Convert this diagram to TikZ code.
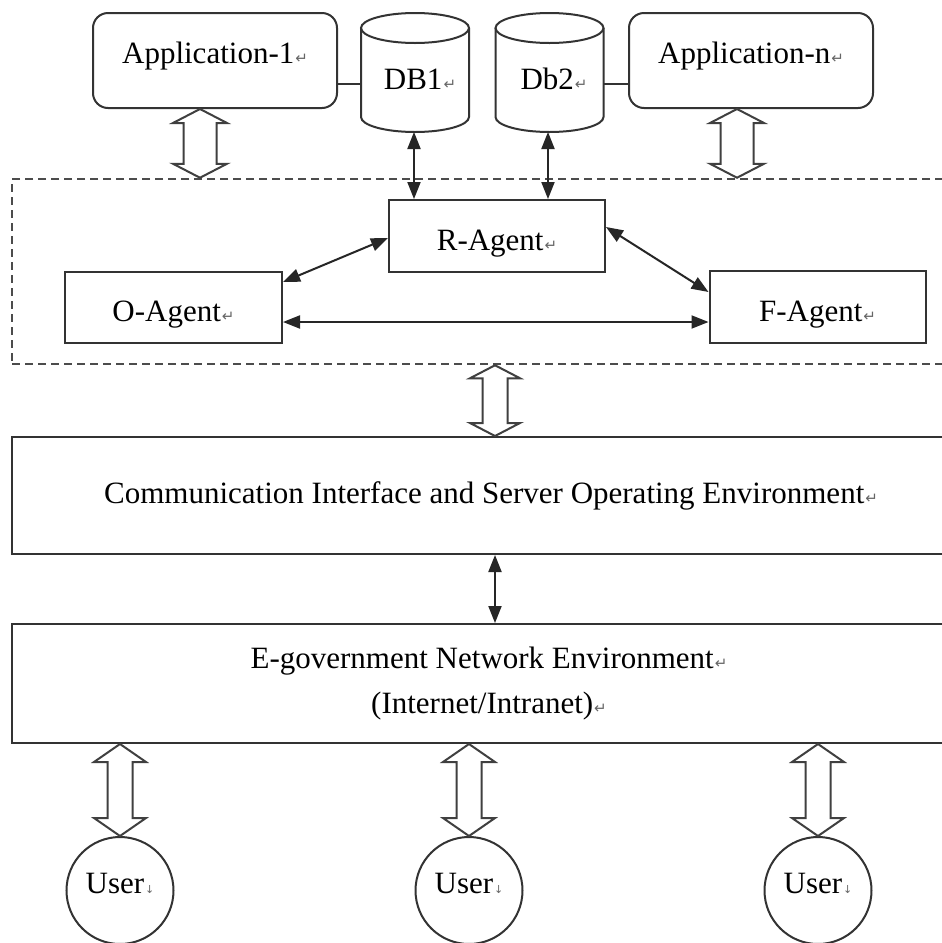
\documentclass[tikz,border=0pt]{standalone}
\usepackage{fontspec}
\setmainfont{Liberation Serif}
\newfontfamily\symfont{DejaVu Sans}
\usetikzlibrary{arrows.meta,calc}

% Word-style paragraph / line-break marks that follow the labels
\newcommand{\pmark}{{\kern0.5pt\symfont\fontsize{7.5}{7.5}\selectfont\color{black!60}↵}}
\newcommand{\lmark}{{\kern0.5pt\symfont\fontsize{5.5}{5.5}\selectfont\color{black!60}↓}}

% hollow two-headed block arrow: top point, bottom point, shaft half width, head half width, head length
\newcommand{\hollowdbl}[5]{%
  \draw[hollow] (#1) -- ($(#1)+(#4,-#5)$) -- ($(#1)+(#3,-#5)$) -- ($(#2)+(#3,#5)$)
    -- ($(#2)+(#4,#5)$) -- (#2) -- ($(#2)+(-#4,#5)$) -- ($(#2)+(-#3,#5)$)
    -- ($(#1)+(-#3,-#5)$) -- ($(#1)+(-#4,-#5)$) -- cycle;}

\begin{document}
\begin{tikzpicture}[x=0.5pt,y=0.5pt,
  every node/.style={font=\fontsize{15.5}{22.5}\selectfont, inner sep=0pt},
  edge/.style={draw=black!80, line width=1pt},
  appbox/.style={edge, rounded corners=7.5pt, minimum width=122pt, minimum height=47.5pt,
                 text height=10pt, text depth=7pt},
  agentbox/.style={edge, minimum width=108pt, minimum height=36pt, text height=17pt, text depth=3pt},
  layerbox/.style={edge, minimum width=479pt},
  dashbox/.style={draw=black!70, line width=1.25pt, dash pattern=on 4pt off 2.5pt},
  userball/.style={edge, circle, minimum size=53.5pt, text height=10pt, text depth=6.7pt},
  link/.style={draw=black!85, line width=1pt,
               {Triangle[length=8.5pt,width=6.5pt]}-{Triangle[length=8.5pt,width=6.5pt]}},
  hollow/.style={draw=black!75, line width=1pt, fill=white, line join=miter},
  plain/.style={draw=black!80, line width=1pt}
]
\useasboundingbox (0,0) rectangle (942,-943);
\fill[white] (0,0) rectangle (942,-943);
\clip (0,0) rectangle (942,-943);

% applications
\node[appbox] (app1) at (215,-60.5) {Application-1\pmark};
\node[appbox] (appn) at (751,-60.5) {Application-n\pmark};

% databases
\draw[plain] (361,-28) -- (361,-117) arc[start angle=180,end angle=360,x radius=27pt,y radius=7.5pt] -- (469,-28);
\draw[plain] (415,-28) ellipse[x radius=27pt,y radius=7.5pt];
\draw[plain] (495.5,-28) -- (495.5,-117) arc[start angle=180,end angle=360,x radius=27pt,y radius=7.5pt] -- (603.5,-28);
\draw[plain] (549.5,-28) ellipse[x radius=27pt,y radius=7.5pt];
\node (db1) at (420,-79) {DB1\pmark};
\node (db2) at (554,-79) {Db2\pmark};

\coordinate (db1w) at (361,-84);
\coordinate (db2e) at (603.5,-84);
\draw[plain] (app1.east |- db1w) -- (db1w);
\draw[plain] (db2e) -- (db2e -| appn.west);

% agent layer
\node[dashbox, minimum width=479pt, minimum height=92.5pt] (layer) at (491,-271.5) {};
\node[agentbox] (ragent) at (497,-236) {R-Agent\pmark};
\node[agentbox, minimum width=108.5pt, minimum height=35.5pt] (oagent) at (173.5,-307.5) {O-Agent\pmark};
\node[agentbox] (fagent) at (817.5,-307) {F-Agent\pmark};

\coordinate (db1b) at (414,-132);
\coordinate (db2b) at (548,-132);
\draw[link] (db1b) -- (db1b |- ragent.north);
\draw[link] (db2b) -- (db2b |- ragent.north);

\draw[link] ($(ragent.west)+(0,-2)$) -- ($(oagent.north east)+(0,-11)$);
\draw[link] ($(ragent.east)+(0,9)$) -- ($(fagent.north west)+(0,-22)$);
\coordinate (of) at ($(oagent.east)+(0,-14.5)$);
\draw[link] (of) -- (of -| fagent.west);

% environment layers
\node[layerbox, minimum height=58.5pt] (cis) at (491,-495.5)
  {Communication Interface and Server Operating Environment\pmark};
\node[layerbox, minimum width=477pt, minimum height=59.5pt, align=center] (egov) at (489,-683.5)
  {E-government Network Environment\pmark\\(Internet/Intranet)\pmark};

\coordinate (ce) at ($(cis.south)+(4,0)$);
\draw[link] (ce) -- (ce |- egov.north);

% users
\node[userball] (user1) at (120,-890.5) {User\lmark};
\node[userball] (user2) at (469,-890.5) {User\lmark};
\node[userball] (user3) at (818,-890.5) {User\lmark};

% block arrows
\coordinate (h1t) at ($(app1.south)+(-15,0)$);
\coordinate (h1b) at (h1t |- layer.north);
\hollowdbl{h1t}{h1b}{16.5}{27}{14}
\coordinate (h2t) at ($(appn.south)+(-14,0)$);
\coordinate (h2b) at (h2t |- layer.north);
\hollowdbl{h2t}{h2b}{16.5}{27}{14}
\coordinate (h3t) at ($(layer.south)+(4,0)$);
\coordinate (h3b) at (h3t |- cis.north);
\hollowdbl{h3t}{h3b}{12.5}{25}{13}

\coordinate (u1t) at (user1.north |- egov.south);
\coordinate (u2t) at (user2.north |- egov.south);
\coordinate (u3t) at (user3.north |- egov.south);
\hollowdbl{u1t}{user1.north}{12.5}{26}{18}
\hollowdbl{u2t}{user2.north}{12.5}{26}{18}
\hollowdbl{u3t}{user3.north}{12.5}{26}{18}
\end{tikzpicture}
\end{document}
